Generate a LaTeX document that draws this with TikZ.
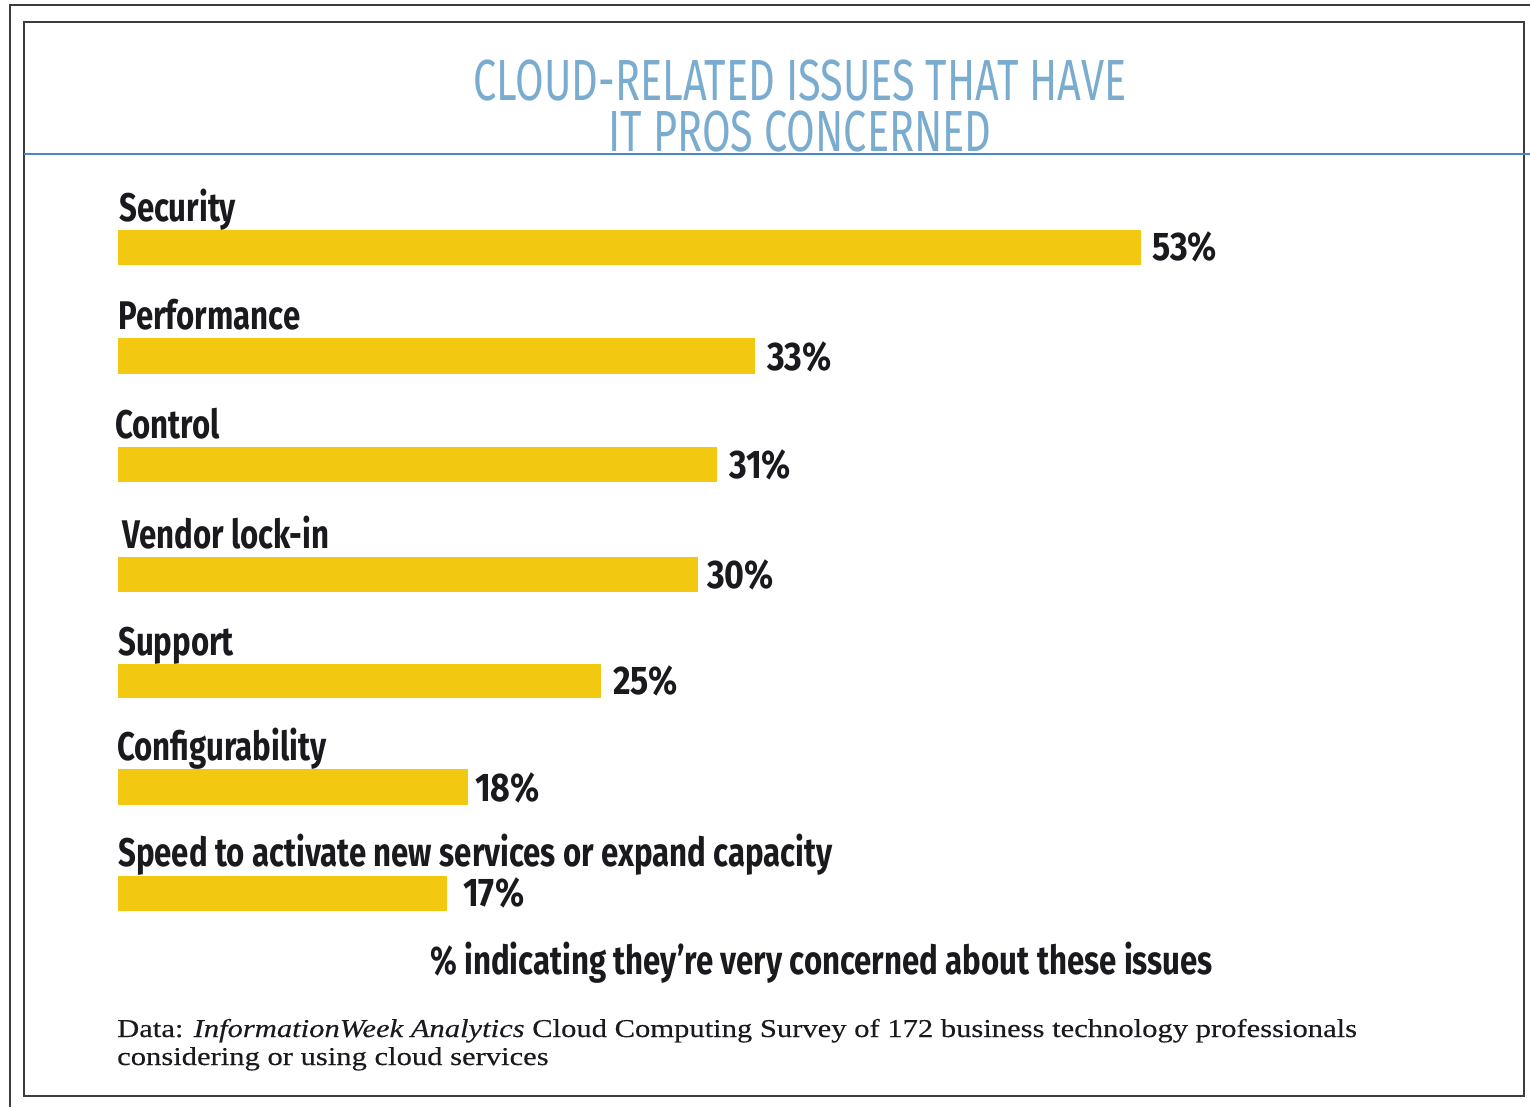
\documentclass[tikz,border=0pt]{standalone}
\usepackage{fontspec}
\setmainfont{Liberation Serif}[FakeStretch=1.19,FakeBold=0.3]
\newfontfamily\labfont[FakeStretch=0.78]{Fira Sans}
\newfontfamily\pctfont[FakeStretch=0.85]{Fira Sans}
\newfontfamily\ttlfont[FakeStretch=0.715]{Fira Sans}
\definecolor{barY}{RGB}{242,200,17}
\definecolor{ttlBlue}{RGB}{122,172,208}
\definecolor{lineBlue}{RGB}{74,134,200}
\definecolor{frameG}{RGB}{60,60,60}
\definecolor{txtK}{RGB}{25,25,30}
\tikzset{
  lab/.style={anchor=base west, inner sep=0pt, text=txtK, font=\labfont\bfseries\fontsize{40}{48}\selectfont},
  pct/.style={anchor=base west, inner sep=0pt, text=txtK, font=\pctfont\bfseries\fontsize{40}{48}\selectfont},
  ttl/.style={anchor=base, inner sep=0pt, text=ttlBlue, align=center, font=\ttlfont\fontsize{58}{51}\selectfont},
  foot/.style={anchor=base west, inner sep=0pt, text=txtK, font=\fontsize{25.7}{28}\selectfont},
  barfill/.style={fill=barY}
}
\begin{document}
\begin{tikzpicture}[x=1pt,y=-1pt]
\useasboundingbox (0,0) rectangle (1530,1107);
% outer frame
\draw[frameG, line width=2pt] (10,1107) -- (10,5) -- (1530,5);
% inner box
\draw[frameG, line width=2.5pt] (24,22) rectangle (1524,1096);
% title
\node[ttl] (title) at (800,152) {CLOUD-RELATED ISSUES THAT HAVE\\IT PROS CONCERNED};
\draw[lineBlue, line width=2.5pt] (24,154) -- (1530,154);
% bars
\fill[barfill] (118,230) rectangle (1141,265);
\fill[barfill] (118,338) rectangle (755,374);
\fill[barfill] (118,447) rectangle (717,482);
\fill[barfill] (118,557) rectangle (698,592);
\fill[barfill] (118,664) rectangle (601,698);
\fill[barfill] (118,769) rectangle (468,805);
\fill[barfill] (118,876) rectangle (447,911);
% labels
\node[lab] (l1) at (119,222) {Security};
\node[lab] (l2) at (118,329) {Performance};
\node[lab] (l3) at (115,438) {Control};
\node[lab] (l4) at (122,548) {Vendor lock-in};
\node[lab] (l5) at (118,655) {Support};
\node[lab] (l6) at (117,760) {Configurability};
\node[lab] (l7) at (118,866) {Speed to activate new services or expand capacity};
% percentages
\node[pct] (p1) at (1152,261) {53\%};
\node[pct] (p2) at (767,370) {33\%};
\node[pct] (p3) at (729,478) {31\%};
\node[pct] (p4) at (707,588) {30\%};
\node[pct] (p5) at (613,694) {25\%};
\node[pct] (p6) at (475,801) {18\%};
\node[pct] (p7) at (463,906) {17\%};
% axis note
\node[lab] (note) at (430,974) {\% indicating they’re very concerned about these issues};
% footnote
\node[foot] (f1) at (117,1037) {Data: \textit{InformationWeek Analytics} Cloud Computing Survey of 172 business technology professionals};
\node[foot] (f2) at (117,1065) {considering or using cloud services};
\end{tikzpicture}
\end{document}
